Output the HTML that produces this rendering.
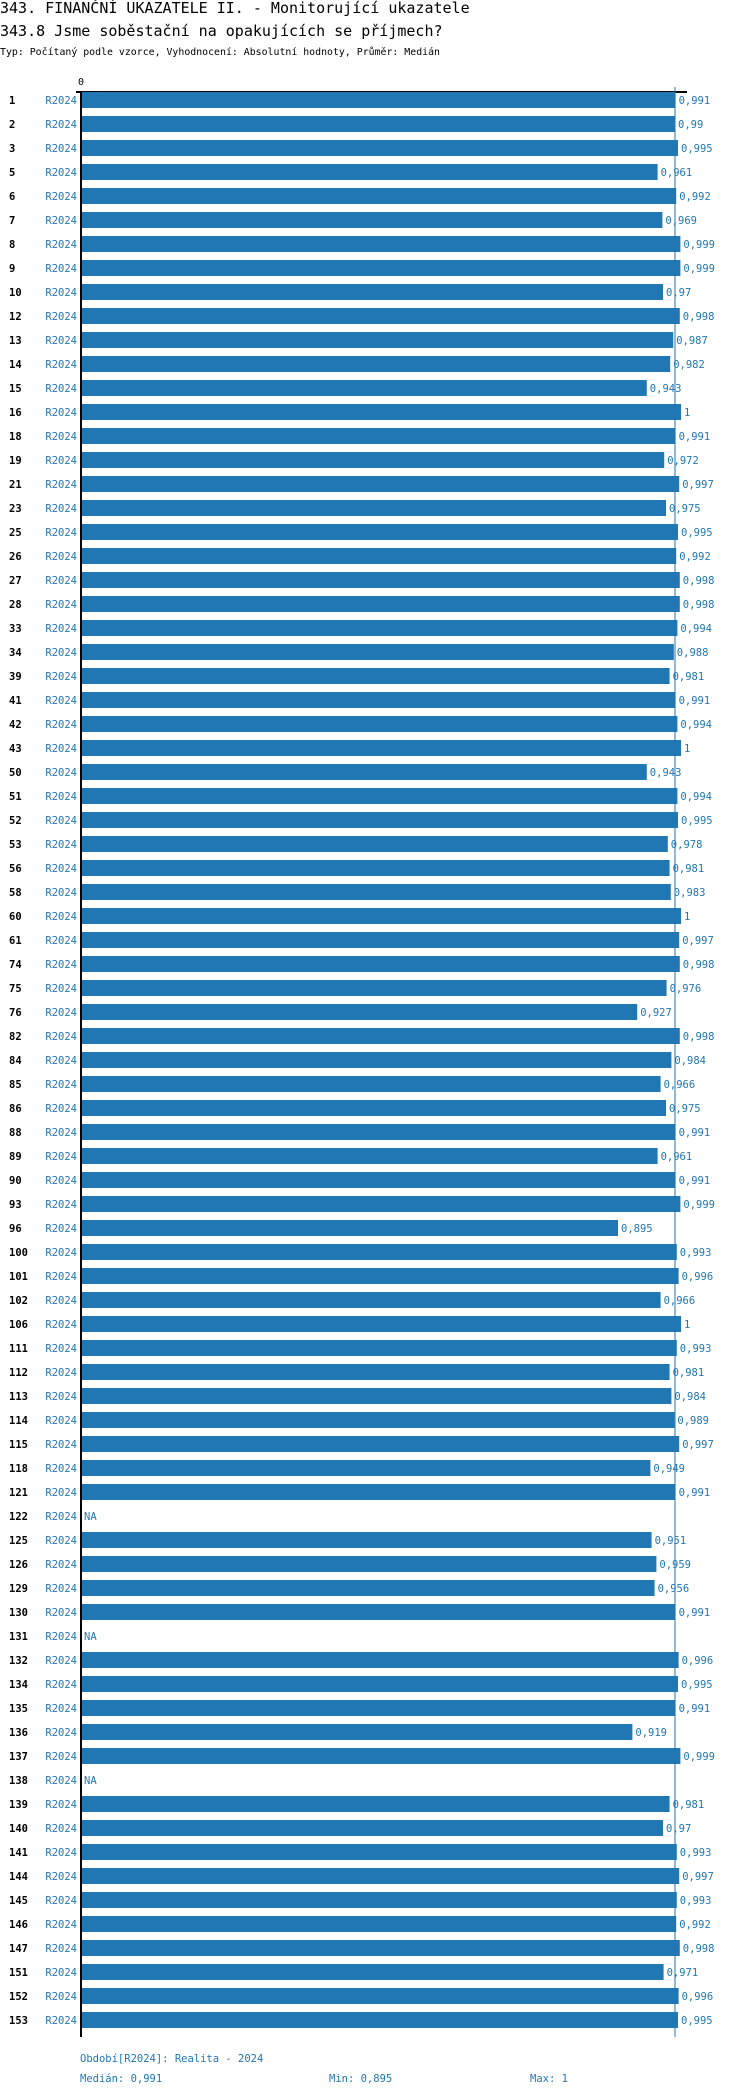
<!DOCTYPE html>
<html><head><meta charset="utf-8"><style>
body{margin:0;background:#fff;width:750px;height:2096px;overflow:hidden}
svg{display:block}
text{font-family:"DejaVu Sans Mono","Liberation Mono",monospace}
.n{font-size:10.5px;font-weight:bold;fill:#000}
.r{font-size:10.5px;fill:#1f77b4;text-anchor:end}
.v{font-size:10.5px;fill:#1f77b4}
rect{fill:#2077b4}
</style></head><body>
<svg width="750" height="2096" xmlns="http://www.w3.org/2000/svg">
<text x="0" y="13" style="font-size:15px">343. FINANČNÍ UKAZATELE II. - Monitorující ukazatele</text>
<text x="0" y="36" style="font-size:15px">343.8 Jsme soběstační na opakujících se příjmech?</text>
<text x="0" y="55" style="font-size:10px" textLength="440" lengthAdjust="spacingAndGlyphs">Typ: Počítaný podle vzorce, Vyhodnocení: Absolutní hodnoty, Průměr: Medián</text>
<text x="78" y="85" style="font-size:10px">0</text>
<line x1="76" y1="92" x2="687" y2="92" stroke="#000" stroke-width="2"/>
<line x1="81" y1="91" x2="81" y2="2037" stroke="#000" stroke-width="2"/>
<g id="rows"></g>
<line x1="675" y1="87" x2="675" y2="2037" stroke="#1f77b4" stroke-width="1"/>
<text x="80" y="2062" class="v">Období[R2024]: Realita - 2024</text>
<text x="80" y="2082" class="v">Medián: 0,991</text>
<text x="329" y="2082" class="v">Min: 0,895</text>
<text x="530" y="2082" class="v">Max: 1</text>
</svg>
<script>
var d=[[1,.991],[2,.99],[3,.995],[5,.961],[6,.992],[7,.969],[8,.999],[9,.999],[10,.97],[12,.998],[13,.987],[14,.982],[15,.943],[16,1],[18,.991],[19,.972],[21,.997],[23,.975],[25,.995],[26,.992],[27,.998],[28,.998],[33,.994],[34,.988],[39,.981],[41,.991],[42,.994],[43,1],[50,.943],[51,.994],[52,.995],[53,.978],[56,.981],[58,.983],[60,1],[61,.997],[74,.998],[75,.976],[76,.927],[82,.998],[84,.984],[85,.966],[86,.975],[88,.991],[89,.961],[90,.991],[93,.999],[96,.895],[100,.993],[101,.996],[102,.966],[106,1],[111,.993],[112,.981],[113,.984],[114,.989],[115,.997],[118,.949],[121,.991],[122,null],[125,.951],[126,.959],[129,.956],[130,.991],[131,null],[132,.996],[134,.995],[135,.991],[136,.919],[137,.999],[138,null],[139,.981],[140,.97],[141,.993],[144,.997],[145,.993],[146,.992],[147,.998],[151,.971],[152,.996],[153,.995]];
var s='';
d.forEach(function(r,i){var c=100+24*i;
s+='<text class="n" x="9" y="'+(c+4)+'">'+r[0]+'</text><text class="r" x="77" y="'+(c+4)+'">R2024</text>';
if(r[1]===null){s+='<text class="v" x="84" y="'+(c+4)+'">NA</text>';}
else{var w=600*r[1]-1;s+='<rect x="82" y="'+(c-8)+'" width="'+w.toFixed(1)+'" height="16"/><text class="v" x="'+(82+w+3).toFixed(1)+'" y="'+(c+4)+'">'+String(r[1]).replace('0.','0,')+'</text>';}
});
document.getElementById('rows').innerHTML=s;
</script>
</body></html>
